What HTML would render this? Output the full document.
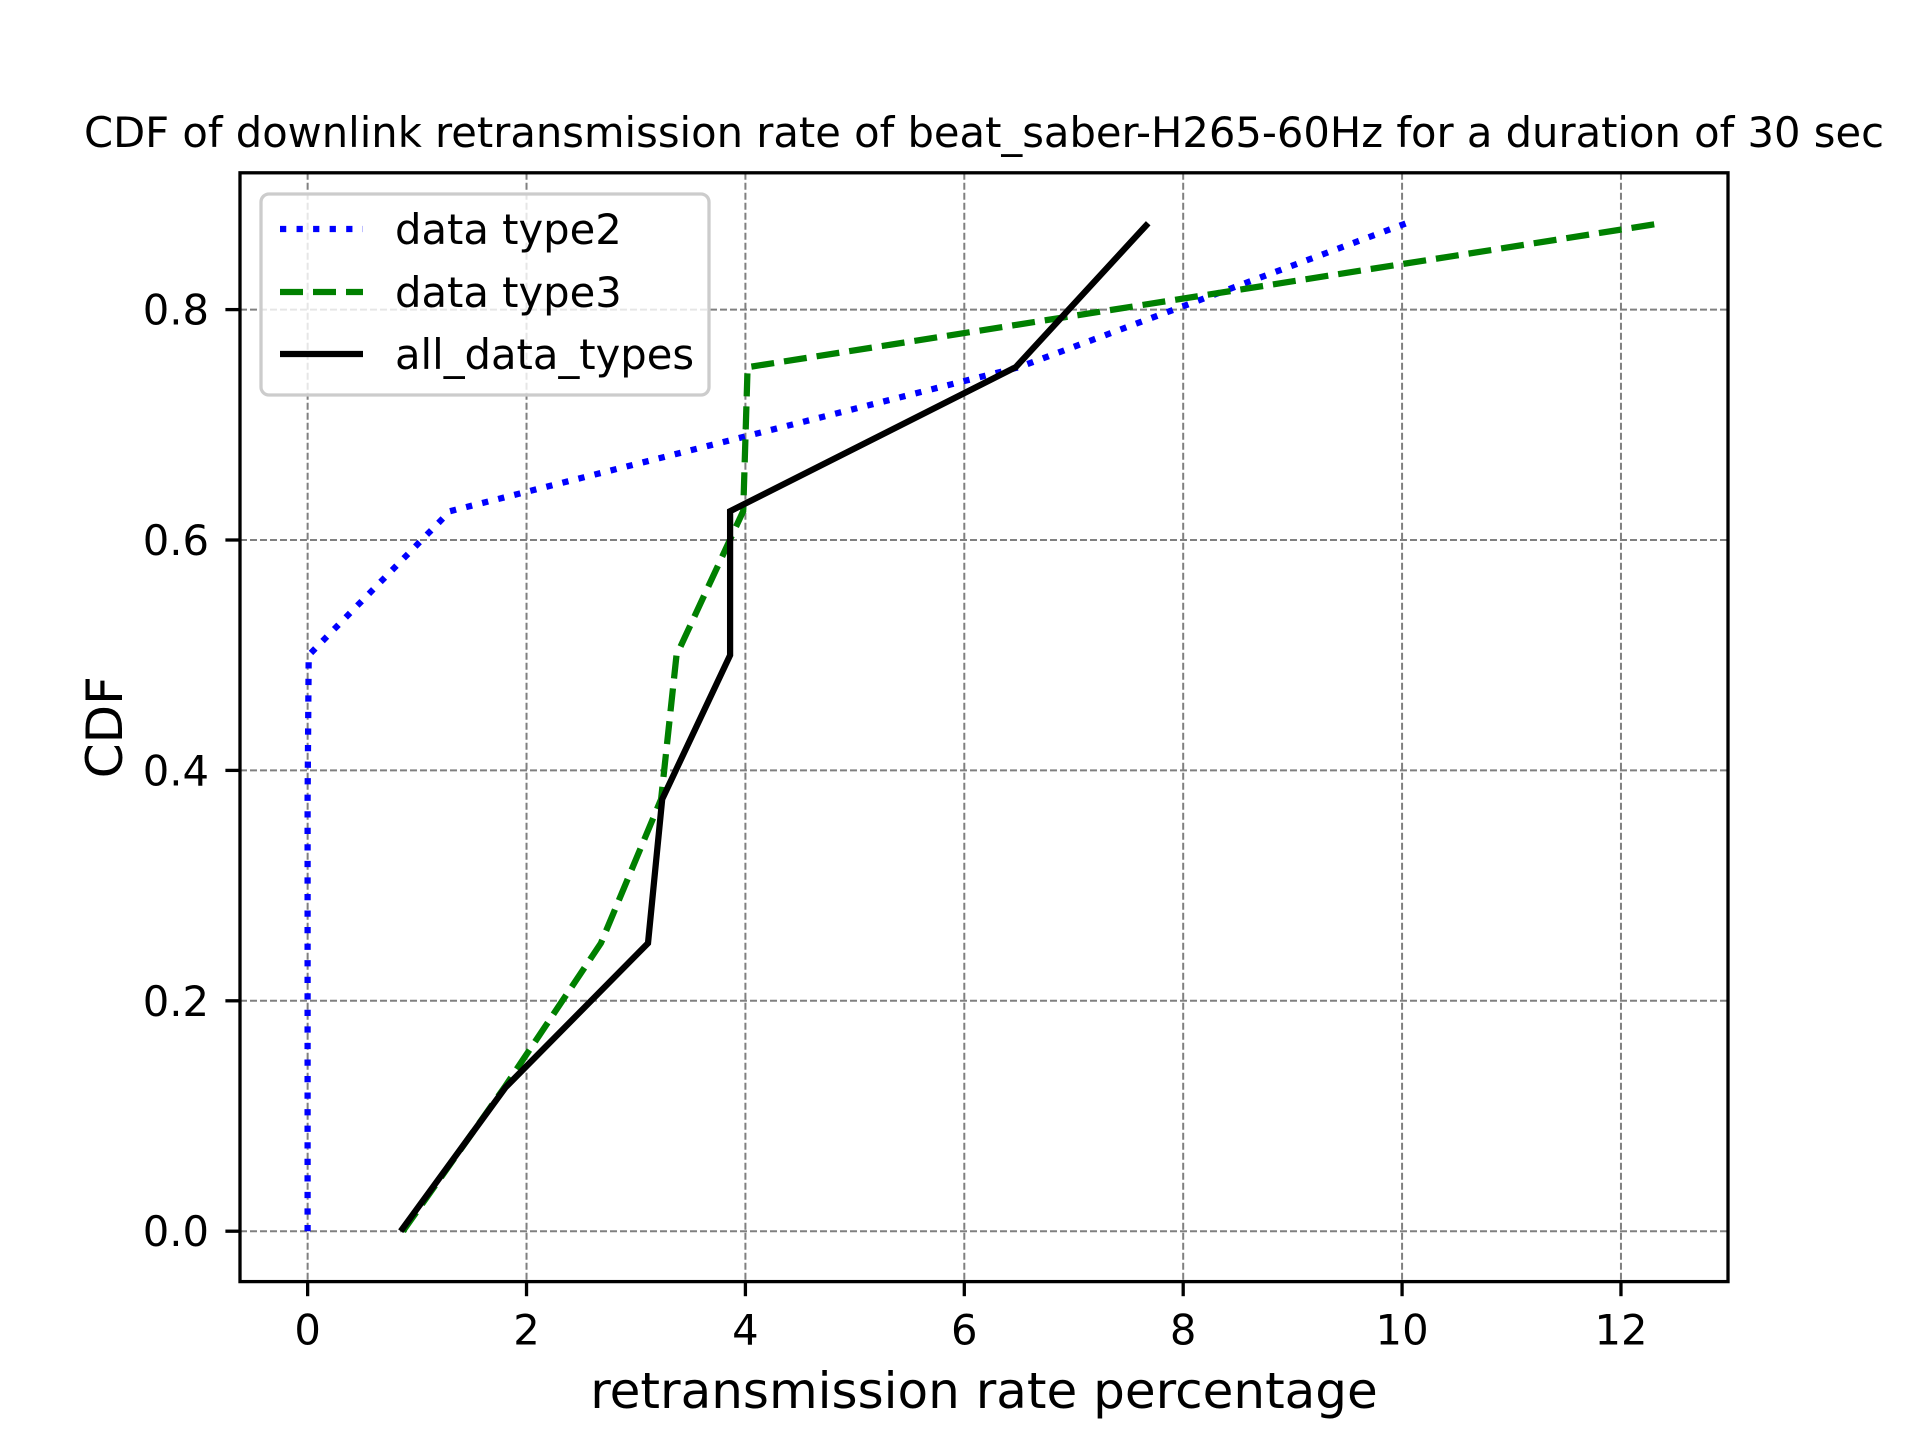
<!DOCTYPE html>
<html><head><meta charset="utf-8"><style>
html,body{margin:0;padding:0;background:#fff;}
svg{display:block;font-family:"DejaVu Sans","Liberation Sans",sans-serif;}
</style></head><body>
<svg id="chart" width="1920" height="1440" viewBox="0 0 1920 1440"></svg>
<script>
const yLevels = [0, 0.125, 0.25, 0.375, 0.5, 0.625, 0.75, 0.875];
const type2X = [0, 0, 0, 0, 0.01, 1.3, 6.5, 10.04];
const type3X = [0.87, 1.8, 2.68, 3.23, 3.37, 3.98, 4.02, 12.37];
const allX = [0.85, 1.81, 3.11, 3.24, 3.86, 3.86, 6.47, 7.68];
const xTicks = [0, 2, 4, 6, 8, 10, 12];
const yTicks = [0.0, 0.2, 0.4, 0.6, 0.8];
const yTickLabels = ["0.0", "0.2", "0.4", "0.6", "0.8"];

const L = 240, R = 1728, T = 172.8, B = 1281.6;
const xMin = -0.618, xMax = 12.978, yMin = -0.04375, yMax = 0.91875;
const xs = v => L + (v - xMin) / (xMax - xMin) * (R - L);
const ys = v => B - (v - yMin) / (yMax - yMin) * (B - T);
const NS = "http://www.w3.org/2000/svg";
const svg = document.getElementById("chart");
function mk(tag, attrs, parent) {
  const e = document.createElementNS(NS, tag);
  for (const k in attrs) e.setAttribute(k, attrs[k]);
  (parent || svg).appendChild(e);
  return e;
}

xTicks.forEach(t => {
  const g = mk("line", {x1: xs(t), x2: xs(t), y1: T, y2: B, stroke: "#808080", "stroke-width": 2, "stroke-dasharray": "7,3"});
  
  
});
yTicks.forEach(t => {
  const g = mk("line", {x1: L, x2: R, y1: ys(t), y2: ys(t), stroke: "#808080", "stroke-width": 2, "stroke-dasharray": "7,3"});
  
  
});

function series(xArr, color, dash, name) {
  const pts = xArr.map((x, i) => xs(x).toFixed(1) + "," + ys(yLevels[i]).toFixed(1)).join(" ");
  const attrs = {points: pts, fill: "none", stroke: color, "stroke-width": 6.25};
  if (dash) attrs["stroke-dasharray"] = dash;
  const p = mk("polyline", attrs);
  
  
}
series(type2X, "#0000ff", "6.25,10.3", "series-data-type2");
series(type3X, "#008000", "23,10", "series-data-type3");
series(allX, "#000000", null, "series-all-data-types");

const frame = mk("rect", {x: L, y: T, width: R - L, height: B - T, fill: "none", stroke: "#000", "stroke-width": 3.3});



xTicks.forEach(t => {
  const tk = mk("line", {x1: xs(t), x2: xs(t), y1: B, y2: B + 14.6, stroke: "#000", "stroke-width": 3.3});
  
  
  const tx = mk("text", {x: xs(t), y: B + 63, "font-size": 41.7, "text-anchor": "middle", fill: "#000"});
  tx.textContent = String(t);
  
  
});
yTicks.forEach((t, i) => {
  const tk = mk("line", {x1: L - 14.6, x2: L, y1: ys(t), y2: ys(t), stroke: "#000", "stroke-width": 3.3});
  
  
  const tx = mk("text", {x: L - 31, y: ys(t) + 15, "font-size": 41.7, "text-anchor": "end", fill: "#000"});
  tx.textContent = yTickLabels[i];
  
  
});

const title = mk("text", {x: (L + R) / 2, y: 147, "font-size": 41.7, "text-anchor": "middle", fill: "#000", textLength: 1800, lengthAdjust: "spacingAndGlyphs"});
title.textContent = "CDF of downlink retransmission rate of beat_saber-H265-60Hz for a duration of 30 sec";


const xl = mk("text", {x: (L + R) / 2, y: 1408, "font-size": 50, "text-anchor": "middle", fill: "#000"});
xl.textContent = "retransmission rate percentage";


const yl = mk("text", {x: 122, y: (T + B) / 2, "font-size": 50, "text-anchor": "middle", fill: "#000", transform: "rotate(-90 122 " + ((T + B) / 2) + ")"});
yl.textContent = "CDF";



const lg = mk("g", {});


mk("rect", {x: 261, y: 194, width: 448, height: 201, rx: 8, fill: "#fff", "fill-opacity": 0.8, stroke: "#cccccc", "stroke-width": 3.3}, lg);
const entries = [
  ["data type2", "#0000ff", "6.25,10.3"],
  ["data type3", "#008000", "23,10"],
  ["all_data_types", "#000000", null]
];
const entryY = [229, 292, 354];
entries.forEach((e, i) => {
  const g = mk("g", {}, lg);
  
  
  const a = {x1: 280, x2: 363, y1: entryY[i], y2: entryY[i], stroke: e[1], "stroke-width": 6.25};
  if (e[2]) a["stroke-dasharray"] = e[2];
  mk("line", a, g);
  const t = mk("text", {x: 395, y: entryY[i] + 15, "font-size": 41.7, fill: "#000"}, g);
  t.textContent = e[0];
});
</script>
</body></html>
